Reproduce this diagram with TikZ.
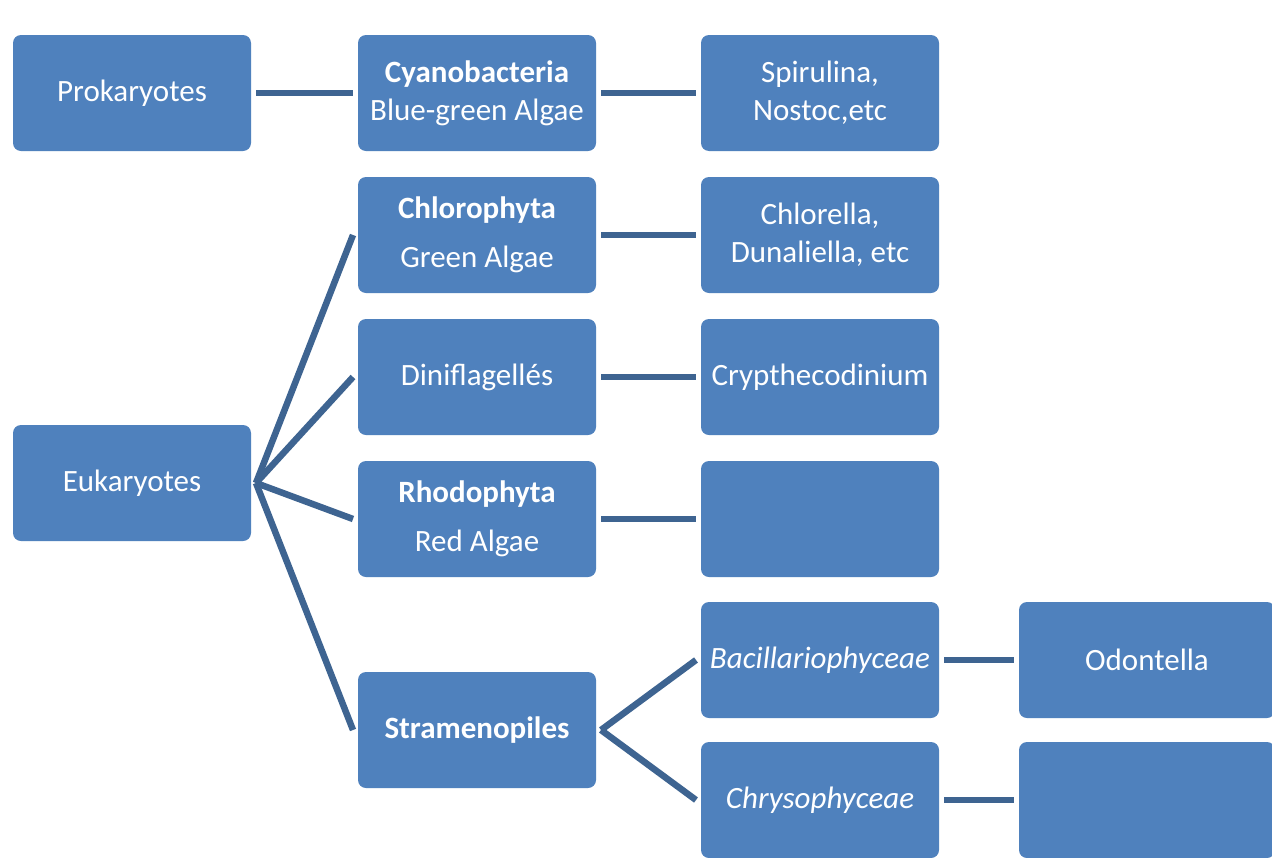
\documentclass[tikz,border=0pt]{standalone}
\usepackage{fontspec}
\setmainfont{Carlito}
\definecolor{algaebox}{HTML}{4F81BD}
\definecolor{algaelink}{HTML}{3E6491}

\begin{document}
\begin{tikzpicture}[
  x=1pt,
  y=-1pt,
  taxon/.style={fill=algaebox,rounded corners=8pt,minimum width=238pt,minimum height=116pt,
    text=white,align=center,inner sep=2pt,outer sep=5pt,font=\fontsize{31}{38}\selectfont},
  widetaxon/.style={taxon,minimum width=256pt},
  link/.style={draw=algaelink,line width=6.5pt}
]
  % Page frame of the original chart, boxes on the right edge are cut off.
  \useasboundingbox (0,0) rectangle (1272,857);
  \clip (0,0) rectangle (1272,857);
  \fill[white] (0,0) rectangle (1272,857);

  % Domains.
  \node[taxon] (prok) at (132,93) {Prokaryotes};
  \node[taxon] (euk) at (132,483) {Eukaryotes};

  % Phyla.
  \node[taxon] (cyano) at (477,93) {\textbf{Cyanobacteria}\\Blue-green Algae};
  \node[taxon] (chloro) at (477,235) {\textbf{Chlorophyta}\\[11pt]Green Algae};
  \node[taxon] (dino) at (477,377) {Diniflagellés};
  \node[taxon] (rhodo) at (477,519) {\textbf{Rhodophyta}\\[11pt]Red Algae};
  \node[taxon] (strameno) at (477,730) {\textbf{Stramenopiles}};

  % Genera and classes.
  \node[taxon] (spirulina) at (820,93) {Spirulina,\\Nostoc,etc};
  \node[taxon] (chlorella) at (820,235) {Chlorella,\\Dunaliella, etc};
  \node[taxon] (crypth) at (820,377) {Crypthecodinium};
  \node[taxon] (rhodoex) at (820,519) {};
  \node[taxon] (bacill) at (820,660) {\itshape Bacillariophyceae};
  \node[taxon] (chryso) at (820,800) {\itshape Chrysophyceae};

  % Genera of the stramenopile classes.
  \node[widetaxon] (odontella) at (1147,660) {Odontella};
  \node[widetaxon] (chrysoex) at (1147,800) {};

  % Links between levels.
  \draw[link] (prok.east) -- (cyano.west);
  \foreach \child in {chloro,dino,rhodo,strameno}
    \draw[link] (euk.east) -- (\child.west);
  \draw[link] (strameno.east) -- (bacill.west);
  \draw[link] (strameno.east) -- (chryso.west);
  \draw[link] (cyano.east) -- (spirulina.west);
  \draw[link] (chloro.east) -- (chlorella.west);
  \draw[link] (dino.east) -- (crypth.west);
  \draw[link] (rhodo.east) -- (rhodoex.west);
  \draw[link] (bacill.east) -- (odontella.west);
  \draw[link] (chryso.east) -- (chrysoex.west);
\end{tikzpicture}
\end{document}
